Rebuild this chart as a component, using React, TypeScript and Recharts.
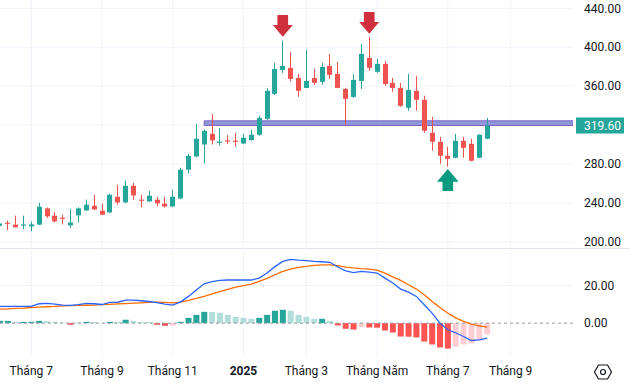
import React from 'react';
import {
  ComposedChart, Bar, Line, XAxis, YAxis, CartesianGrid,
  ReferenceArea, ReferenceLine, ReferenceDot, Cell,
} from 'recharts';

// weekly candles, Jun 2024 -> Aug 2025
const opens = [216.5, 219.8, 217.8, 217.5, 216, 217.8, 234.5, 227, 225, 217, 227.3, 232.4, 237.2, 232.1, 230.3, 246.4, 240.6, 257.7, 243.5, 241.6, 243.4, 239.3, 236.5, 244.7, 274.2, 287.8, 300.1, 311.1, 302.3, 304.3, 304, 301.1, 304.6, 310.1, 326.5, 352.1, 376.7, 378.8, 368.5, 358.2, 368.5, 364.4, 380.8, 372.6, 357.2, 349, 365.4, 389, 374.7, 382.9, 363.4, 358.2, 337.8, 355.2, 346, 312.1, 302.9, 288.5, 286.5, 303.9, 300.8, 286.5, 306];
const highs = [219.5, 222, 227, 227, 221, 240.3, 235.5, 230.8, 228, 234, 235.5, 243.4, 248.5, 239.3, 249.5, 258.8, 263, 260.8, 248.5, 252.6, 246.4, 246.4, 253.6, 276.2, 290.6, 321.3, 315.2, 331.6, 317, 310, 312, 311, 315.2, 329.5, 358.2, 383.9, 406.8, 395.2, 372.6, 397.2, 377.7, 383.9, 393.1, 384.9, 358.2, 372.6, 403.4, 410.6, 388, 386, 368.5, 363.4, 372.6, 370.6, 350.1, 328.5, 308, 297.7, 311.1, 308, 306, 310.5, 327.5];
const lows = [216, 212, 215, 213, 211, 217.5, 224.6, 220, 218, 214.4, 220, 232, 233, 227.5, 230, 238.3, 240, 243.4, 235.5, 241.5, 236.5, 235.2, 236, 244, 270.4, 287, 280.6, 300, 299, 300.5, 298, 300.5, 304, 309, 325.4, 351, 373.6, 364.7, 349, 358, 361.3, 361.3, 367.5, 358, 320.3, 348, 357.2, 375.7, 373.6, 360.3, 354.2, 338.8, 334.7, 334.7, 312.1, 293.6, 280.3, 277.2, 286, 286.5, 283, 286, 305.5];
const closes = [219, 219.3, 215, 218, 218, 236.2, 226.3, 221.1, 224.3, 220, 234.5, 238.3, 233.4, 228, 248.5, 240.6, 257.7, 247.8, 242.5, 247.5, 239.6, 236.5, 246.4, 274.2, 288.5, 306, 314.2, 304.3, 303, 303.6, 303.3, 307, 310.1, 327.5, 355.2, 377.7, 380.8, 367.5, 355.2, 365.4, 363.4, 379.8, 371.6, 358.2, 347, 366.5, 393.1, 378.8, 382.9, 362.3, 358.2, 339.8, 356.2, 346, 314.2, 302.9, 288.5, 285.4, 303.9, 296.7, 283.4, 310.1, 319.6];

// MACD pane
const macdLine = [8.9, 8.9, 8.9, 8.9, 8.9, 10.3, 10.5, 10.1, 9.6, 9.4, 9.8, 10.5, 10.3, 9.9, 11, 11.1, 12.2, 12.2, 11.9, 11.5, 10.9, 10.1, 9.6, 11.3, 14.2, 17.6, 20.9, 22, 22.7, 22.9, 22.9, 22.9, 22.9, 23.9, 26.6, 30, 32.8, 33.9, 33.5, 33.2, 32.8, 32.6, 32.3, 29.8, 27.8, 26.8, 27.5, 27.1, 26.6, 23.9, 21.3, 18.1, 16.5, 14.2, 9.8, 5.3, 0, -3.5, -5.1, -7.1, -9.2, -8.9, -8];
const signalLine = [7.4, 7.6, 7.8, 8, 8.3, 8.5, 8.7, 8.9, 9.2, 9.3, 9.4, 9.5, 9.6, 9.8, 10, 10.2, 10.4, 10.6, 10.8, 11, 11.1, 11, 10.8, 11.2, 12.1, 13.1, 14.2, 15.5, 16.7, 17.9, 19.1, 19.9, 20.7, 22.2, 23.8, 25.7, 27.5, 28.7, 29.6, 30.1, 30.7, 30.9, 30.9, 30.5, 29.8, 29.3, 28.9, 28.7, 28.2, 26.6, 24.6, 22.7, 20.4, 18.1, 15.1, 11.5, 8.3, 5.3, 2.8, 0.9, -0.5, -1.4, -2.1];
const histogram = [1.2, 1.2, 0.7, 0.7, 0.7, 1.2, 1.1, 0.7, 0.3, -0.9, 0.2, 0.7, 0.6, 0.2, 0.7, 0.6, 1.8, 1.2, 0.7, 0.6, -0.9, -1.4, -1.3, 0.7, 2.8, 4.4, 6, 5.9, 5.5, 4.4, 3.3, 2.8, 2.3, 2.8, 4.4, 6.6, 7.1, 6.6, 4.4, 3.4, 2.3, 2.3, 1.2, -1.2, -3, -3.4, -2, -2.3, -2.4, -3.9, -5, -7.1, -7.2, -7.6, -9.8, -11.3, -12.9, -13.5, -12.4, -11.3, -10.8, -9.2, -6];

const tickIdx = [4, 13, 22, 31, 39, 48, 57, 65];
const tickLabels = ['Tháng 7', 'Tháng 9', 'Tháng 11', '2025', 'Tháng 3', 'Tháng Năm', 'Tháng 7', 'Tháng 9'];
const priceTicks = [200, 240, 280, 320, 360, 400, 440];
const macdTicks = [0, 20];

const bandLow = 319.6;
const bandHigh = 324.4;
const bandStart = 26;
const topArrows = [{ i: 36, price: 421.9 }, { i: 47, price: 425 }];
const bottomArrows = [{ i: 57, price: 263.6 }];

const UP = '#26a69a';
const DOWN = '#ef5350';
const TEXT = '#131722';
const GRID = '#f0f3fa';
const XDOMAIN: [number, number] = [0.02, 72.93];

const rows = opens.map((o, i) => ({
  i,
  open: o,
  high: highs[i],
  low: lows[i],
  close: closes[i],
  macd: macdLine[i],
  signal: signalLine[i],
  hist: histogram[i],
}));

const lastPrice = closes[closes.length - 1];
// the last-price tag sits on the axis and hides the 320 label under it
const axisTicks = [...priceTicks.filter((t) => Math.abs(t - lastPrice) > 5), lastPrice];

const Candle = (props: any) => {
  const { x, y, width, height, payload } = props;
  const { open, close, high, low } = payload;
  const color = close >= open ? UP : DOWN;
  const k = height / (high - low || 1);
  const yOf = (v: number) => y + (high - v) * k;
  const cx = Math.round(x + width / 2);
  const top = yOf(Math.max(open, close));
  const bot = yOf(Math.min(open, close));
  return (
    <g>
      <line x1={cx + 0.5} x2={cx + 0.5} y1={y} y2={y + height} stroke={color} strokeWidth={1} />
      <rect x={cx - 2} y={top} width={5} height={Math.max(1.2, bot - top)} fill={color} />
    </g>
  );
};

const DownArrow = (props: any) => {
  const { cx, cy } = props;
  const d = `M${cx - 5.35},${cy - 10.85} L${cx + 5.35},${cy - 10.85} L${cx + 5.35},${cy - 0.85} L${cx + 10},${cy - 0.85} L${cx},${cy + 10.85} L${cx - 10},${cy - 0.85} L${cx - 5.35},${cy - 0.85} Z`;
  return <path d={d} fill="#d0303d" />;
};

const UpArrow = (props: any) => {
  const { cx, cy } = props;
  const d = `M${cx},${cy - 11} L${cx + 10.8},${cy + 1.7} L${cx + 5.35},${cy + 1.7} L${cx + 5.35},${cy + 11} L${cx - 5.35},${cy + 11} L${cx - 5.35},${cy + 1.7} L${cx - 10.8},${cy + 1.7} Z`;
  return <path d={d} fill="#089981" />;
};

const PriceTick = (props: any) => {
  const { x, y, payload } = props;
  const v = payload.value;
  if (v === lastPrice) {
    return (
      <g>
        <rect x={x - 8} y={y - 8} width={48} height={16} fill={UP} />
        <text x={x} y={y} dy="0.355em" fill="#ffffff" fontSize={12}>{v.toFixed(2)}</text>
      </g>
    );
  }
  return (
    <text x={x} y={y} dy="0.355em" fill={TEXT} fontSize={12}>{v.toFixed(2)}</text>
  );
};

const ValueTick = (props: any) => {
  const { x, y, payload } = props;
  return (
    <text x={x} y={y} dy="0.355em" fill={TEXT} fontSize={12}>{payload.value.toFixed(2)}</text>
  );
};

const MonthTick = (props: any) => {
  const { x, y, payload } = props;
  const label = tickLabels[tickIdx.indexOf(payload.value)] ?? '';
  const isYear = /^\d{4}$/.test(label);
  return (
    <text x={x} y={y} dy="0.71em" textAnchor="middle" fill={TEXT} fontSize={12} fontWeight={isYear ? 700 : 400}>
      {label}
    </text>
  );
};

const histColor = (i: number) => {
  const v = histogram[i];
  const prev = i > 0 ? histogram[i - 1] : -Infinity;
  if (v >= 0) return v >= prev ? '#26a69a' : '#b2dfdb';
  return v < prev ? '#ff5252' : '#ffcdd2';
};

export default function App() {
  return (
    <div style={{ position: 'absolute', left: 0, top: 0, width: 629, height: 383, background: '#ffffff', fontFamily: 'Roboto, sans-serif' }}>
      <div style={{ position: 'absolute', left: 0, top: 0 }}>
        <ComposedChart width={629} height={248} data={rows} margin={{ top: 0, right: 0, bottom: 0, left: 0 }}>
          <CartesianGrid stroke={GRID} verticalValues={tickIdx} horizontalValues={priceTicks} />
          <XAxis dataKey="i" type="number" domain={XDOMAIN} allowDataOverflow ticks={tickIdx} hide />
          <YAxis
            orientation="right"
            width={56}
            type="number"
            domain={[193.8, 448.5]}
            allowDataOverflow
            ticks={axisTicks}
            interval={0}
            axisLine={false}
            tickLine={false}
            tickSize={0}
            tickMargin={11}
            tick={<PriceTick />}
          />
          <ReferenceArea
            x1={bandStart}
            x2={XDOMAIN[1]}
            y1={bandLow}
            y2={bandHigh}
            fill="#9098da"
            fillOpacity={1}
            stroke="#7d62c6"
            strokeWidth={1}
            ifOverflow="hidden"
          />
          <Bar
            dataKey={(d: any) => [d.low, d.high]}
            barSize={5}
            shape={<Candle />}
            isAnimationActive={false}
          />
          {topArrows.map((a) => (
            <ReferenceDot key={a.i} x={a.i} y={a.price} r={10} shape={<DownArrow />} />
          ))}
          {bottomArrows.map((a) => (
            <ReferenceDot key={a.i} x={a.i} y={a.price} r={10} shape={<UpArrow />} />
          ))}
        </ComposedChart>
      </div>
      <div style={{ position: 'absolute', left: 0, top: 248, width: 629, height: 1, background: '#e0e3eb' }} />
      <div style={{ position: 'absolute', left: 0, top: 248 }}>
        <ComposedChart width={629} height={135} data={rows} margin={{ top: 0, right: 0, bottom: 0, left: 0 }}>
          <CartesianGrid stroke={GRID} verticalValues={tickIdx} horizontalValues={[20]} />
          <XAxis
            dataKey="i"
            type="number"
            domain={XDOMAIN}
            allowDataOverflow
            ticks={tickIdx}
            height={25}
            axisLine={false}
            tickLine={false}
            tickSize={0}
            tickMargin={8}
            tick={<MonthTick />}
            interval={0}
          />
          <YAxis
            orientation="right"
            width={56}
            type="number"
            domain={[-18.5, 39.9]}
            allowDataOverflow
            ticks={macdTicks}
            interval={0}
            axisLine={false}
            tickLine={false}
            tickSize={0}
            tickMargin={11}
            tick={<ValueTick />}
          />
          <ReferenceLine y={0} stroke="#9598a1" strokeDasharray="3 3" />
          <Bar dataKey="hist" barSize={6} isAnimationActive={false}>
            {rows.map((r) => (
              <Cell key={r.i} fill={histColor(r.i)} />
            ))}
          </Bar>
          <Line type="linear" dataKey="signal" stroke="#ff6d00" strokeWidth={1.3} dot={false} isAnimationActive={false} />
          <Line type="linear" dataKey="macd" stroke="#2962ff" strokeWidth={1.3} dot={false} isAnimationActive={false} />
        </ComposedChart>
      </div>
      <svg width={20} height={20} style={{ position: 'absolute', left: 593, top: 362 }}>
        <polygon points="5.5,3 14.5,3 18.5,10 14.5,17 5.5,17 1.5,10" fill="none" stroke={TEXT} strokeWidth={1.2} />
        <circle cx={10} cy={10} r={2.5} fill="none" stroke={TEXT} strokeWidth={1.2} />
      </svg>
    </div>
  );
}
